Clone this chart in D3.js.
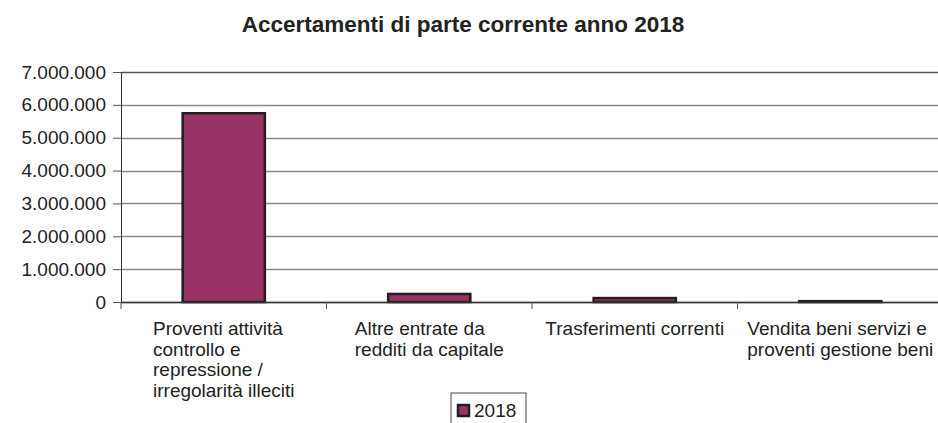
<!DOCTYPE html>
<html>
<head>
<meta charset="utf-8">
<script src="https://cdn.jsdelivr.net/npm/d3@7"></script>
<style>
    body { margin: 0; background: #fff; }
    text { font-family: Arial, "Liberation Sans", sans-serif; fill: #222; }
</style>
</head>
<body>
<div id="chart"></div>
<script>
// chart data
let categories = [
    ["Proventi attività", "controllo e", "repressione /", "irregolarità illeciti"],
    ["Altre entrate da", "redditi da capitale"],
    ["Trasferimenti correnti"],
    ["Vendita beni servizi e", "proventi gestione beni"]
];
let values2018 = [5745000, 245000, 120000, 25000];
let yTicks = [0, 1000000, 2000000, 3000000, 4000000, 5000000, 6000000, 7000000];
let seriesName = "2018";
let title = "Accertamenti di parte corrente anno 2018";

// configuration of svg/plot area
let config = {
    svg: {width: 938, height: 423},
    plot: {x: 121, y: 72, width: 822, height: 230}
};

let svg = d3.select("#chart")
    .append("svg")
        .attr("width", config.svg.width)
        .attr("height", config.svg.height);

svg.append("text")
    .attr("x", 463)
    .attr("y", 32)
    .attr("text-anchor", "middle")
    .attr("font-size", "22.5px")
    .attr("font-weight", "bold")
    .text(title);

let plot = svg.append("g")
    .attr("transform", `translate(${config.plot.x},${config.plot.y})`);

let x = d3.scaleBand()
    .domain(d3.range(categories.length))
    .range([0, config.plot.width])
    .paddingInner(0.6)
    .paddingOuter(0.3);

let y = d3.scaleLinear()
    .domain([0, 7000000])
    .range([config.plot.height, 0]);

let fmt = v => d3.format(",")(v).replace(/,/g, ".");

// gridlines
plot.append("g")
    .selectAll("line")
    .data(yTicks)
    .join("line")
        .attr("x1", 0)
        .attr("x2", config.plot.width)
        .attr("y1", d => Math.round(y(d)) + 0.5)
        .attr("y2", d => Math.round(y(d)) + 0.5)
        .style("stroke", (d, i) => i === yTicks.length - 1 ? "#555" : "#8a8a8a")
        .style("stroke-width", 1.5);

// y axis
let yAxis = g => g
    .call(d3.axisLeft(y).tickValues(yTicks).tickFormat(fmt).tickSize(8).tickPadding(7))
    .call(g => g.select(".domain").attr("stroke", "#333"))
    .call(g => g.selectAll(".tick line").attr("stroke", "#555"))
    .call(g => g.selectAll(".tick text")
        .attr("font-size", "19px")
        .attr("font-family", "Arial, 'Liberation Sans', sans-serif")
        .attr("fill", "#222"));

plot.append("g").call(yAxis);

// bars
plot.append("g")
    .selectAll("rect")
    .data(values2018)
    .join("rect")
        .attr("x", (d, i) => x(i))
        .attr("y", d => y(d))
        .attr("width", x.bandwidth())
        .attr("height", d => config.plot.height - y(d))
        .attr("fill", "#993366")
        .style("stroke", "#231f20")
        .style("stroke-width", 2.5);

// x axis baseline and ticks
let step = x.step();
let xg = plot.append("g").attr("transform", `translate(0,${config.plot.height})`);
xg.append("line")
    .attr("x1", 0).attr("x2", config.plot.width)
    .attr("y1", 0.5).attr("y2", 0.5)
    .style("stroke", "#333").style("stroke-width", 1.5);
xg.selectAll(".xtick")
    .data(d3.range(categories.length))
    .join("line")
        .attr("class", "xtick")
        .attr("x1", i => x(i) - step * 0.3)
        .attr("x2", i => x(i) - step * 0.3)
        .attr("y1", 0)
        .attr("y2", 7)
        .style("stroke", "#555");

// category labels: lines left-aligned, block centred in its band
let labels = xg.selectAll(".xlabel")
    .data(categories)
    .join("text")
        .attr("class", "xlabel")
        .attr("font-size", "19px")
        .attr("y", 33);
labels.selectAll("tspan")
    .data(d => d)
    .join("tspan")
        .attr("x", 0)
        .attr("dy", (d, i) => i === 0 ? 0 : 20.7)
        .text(d => d);
labels.each(function(d, i) {
    let w = this.getBBox().width;
    let cx = x(i) + x.bandwidth() / 2;
    d3.select(this).attr("transform", `translate(${cx - w / 2},0)`);
});

// legend
let legend = svg.append("g").attr("transform", "translate(451,393)");
legend.append("rect")
    .attr("width", 75).attr("height", 34)
    .attr("fill", "#fff")
    .style("stroke", "#444").style("stroke-width", 1);
legend.append("rect")
    .attr("x", 7).attr("y", 12)
    .attr("width", 11).attr("height", 11)
    .attr("fill", "#993366")
    .style("stroke", "#231f20").style("stroke-width", 2.5);
legend.append("text")
    .attr("x", 23).attr("y", 24)
    .attr("font-size", "19px")
    .text(seriesName);
</script>
</body>
</html>
